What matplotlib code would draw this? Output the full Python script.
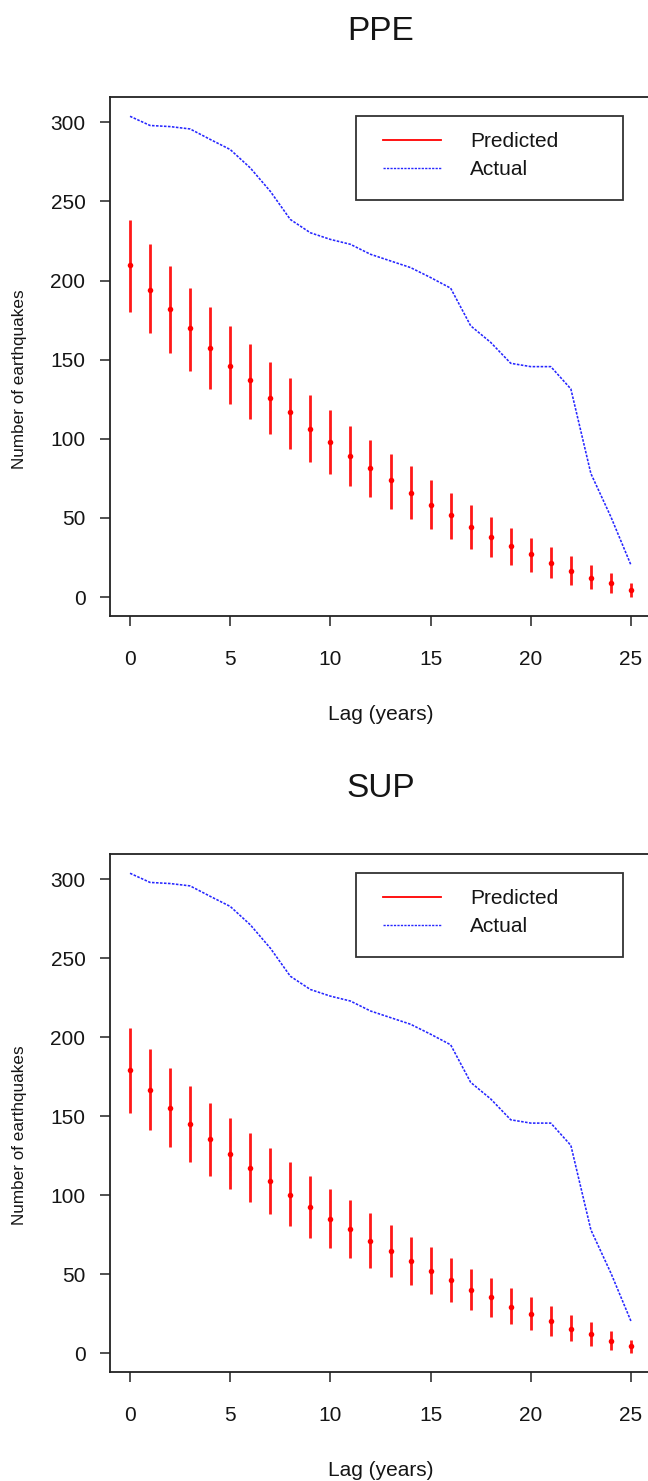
import matplotlib
matplotlib.use('Agg')
import matplotlib.pyplot as plt
from matplotlib.lines import Line2D
from matplotlib.patches import Rectangle

plt.rcParams['font.family'] = ['Liberation Sans', 'DejaVu Sans']

# ---------------- data ----------------
lags = list(range(26))

actual = [303.8, 298.0, 297.3, 295.8, 289.2, 282.8, 271.2, 256.4, 238.6, 230.2,
          226.0, 222.9, 216.6, 212.4, 208.2, 201.9, 195.2, 171.4, 160.9, 147.7,
          145.6, 145.6, 131.5, 78.0, 50.6, 20.2]

ppe_mean = [209.9, 194.3, 182.1, 169.7, 157.5, 146.3, 136.9, 125.9, 116.7, 106.0,
            98.2, 89.0, 81.4, 73.7, 65.7, 58.3, 52.0, 44.2, 38.2, 32.1,
            27.2, 21.2, 16.5, 11.9, 8.8, 4.3]
ppe_lo = [180.0, 166.8, 154.4, 142.8, 131.6, 122.0, 112.3, 103.1, 93.6, 85.2,
          77.9, 70.1, 63.1, 55.4, 49.1, 42.8, 36.5, 30.6, 25.3, 20.1,
          15.9, 11.7, 7.9, 4.8, 2.3, -0.3]
ppe_hi = [238.5, 223.2, 209.0, 195.4, 183.2, 171.3, 159.8, 148.6, 138.1, 127.6,
          118.2, 108.3, 99.5, 90.5, 82.5, 74.1, 65.7, 57.9, 50.5, 43.6,
          37.5, 31.6, 25.8, 20.1, 14.9, 8.9]

sup_mean = [179.0, 166.6, 155.4, 145.0, 135.5, 126.3, 117.0, 109.2, 100.2, 92.4,
            84.7, 78.6, 70.8, 64.5, 58.4, 52.1, 46.0, 39.9, 35.3, 29.0,
            24.6, 20.0, 15.4, 12.2, 7.4, 4.6]
sup_lo = [152.3, 141.2, 130.2, 120.8, 112.0, 103.6, 95.6, 87.8, 80.3, 72.9,
          66.6, 60.3, 54.0, 47.9, 43.1, 37.4, 32.6, 27.3, 22.7, 18.5,
          14.7, 10.9, 7.4, 4.6, 1.7, 0.0]
sup_hi = [205.8, 192.6, 180.6, 169.1, 158.6, 149.1, 139.3, 129.8, 121.2, 112.0,
          104.0, 96.6, 88.6, 81.3, 73.5, 67.2, 59.9, 53.2, 47.3, 41.0,
          35.3, 29.8, 24.2, 19.6, 13.7, 8.4]

panels = [("PPE", ppe_mean, ppe_lo, ppe_hi), ("SUP", sup_mean, sup_lo, sup_hi)]
xticks = [0, 5, 10, 15, 20, 25]
yticks = [0, 50, 100, 150, 200, 250, 300]
legend_labels = ["Predicted", "Actual"]

# ---------------- layout ----------------
W, H = 648, 1481
fig = plt.figure(figsize=(W / 100, H / 100), dpi=100)

def px_axes(left, top, right, bottom):
    return fig.add_axes([left / W, 1 - bottom / H, (right - left) / W, (bottom - top) / H])

boxes = [(110, 97, 651, 616), (110, 854, 651, 1372)]
FS = 15
RED = '#FF0000'
BLUE = '#2626FF'
SPINE = '#222222'
TXT = '#151515'
DOT = (0, (1.6, 0.9))

for (title, mean, lo, hi), (l, t, r, b) in zip(panels, boxes):
    ax = px_axes(l, t, r, b)
    aw, ah = r - l, b - t

    ax.vlines(lags, lo, hi, color=RED, lw=2.0, alpha=0.9, zorder=3)
    ax.plot(lags, mean, 'o', color=RED, ms=4.0, mew=0, zorder=4)
    ax.plot(lags, actual, color=BLUE, lw=1.15, ls=DOT, zorder=2)

    ax.set_xlim(-1, 26)
    ax.set_ylim(-12, 316)
    ax.set_xticks(xticks)
    ax.set_yticks(yticks)
    ax.tick_params(axis='both', direction='out', length=7.2, width=1.1,
                   color=SPINE, labelsize=FS, labelcolor=TXT)
    ax.tick_params(axis='x', pad=17)
    ax.tick_params(axis='y', pad=10.5)
    for s in ax.spines.values():
        s.set_linewidth(1.3)
        s.set_color(SPINE)

    ax.set_xlabel("Lag (years)", fontsize=FS, color=TXT)
    ax.xaxis.label.set_va('baseline')
    ax.xaxis.set_label_coords(0.5, -104 / ah)
    ax.set_ylabel("Number of earthquakes", fontsize=12.3, color=TXT)
    ax.yaxis.label.set_va('center')
    ax.yaxis.set_label_coords(-(l - 20) / aw, 0.457)

    ax.text(0.5, 1 + 57 / ah, title, transform=ax.transAxes, ha='center',
            va='baseline', fontsize=24, color=TXT)

    handles = [Line2D([], [], color=RED, lw=1.3),
               Line2D([], [], color=BLUE, lw=1.0, ls=DOT)]
    leg = ax.legend(handles, legend_labels, loc='upper left',
                    bbox_to_anchor=((383 - l) / aw, 1 - (132 - 97) / ah),
                    bbox_transform=ax.transAxes, frameon=False, borderpad=0,
                    borderaxespad=0, handlelength=58 / 20.8,
                    handletextpad=29 / 20.8, labelspacing=0.45, fontsize=FS)
    for txt in leg.get_texts():
        txt.set_color(TXT)
    ax.add_patch(Rectangle(((356 - l) / aw, 1 - (200 - 97) / ah), 267 / aw, 84 / ah,
                           transform=ax.transAxes, fill=False, lw=1.3,
                           edgecolor='#333333', zorder=5, clip_on=False))

fig.savefig("out.png", dpi=100)
